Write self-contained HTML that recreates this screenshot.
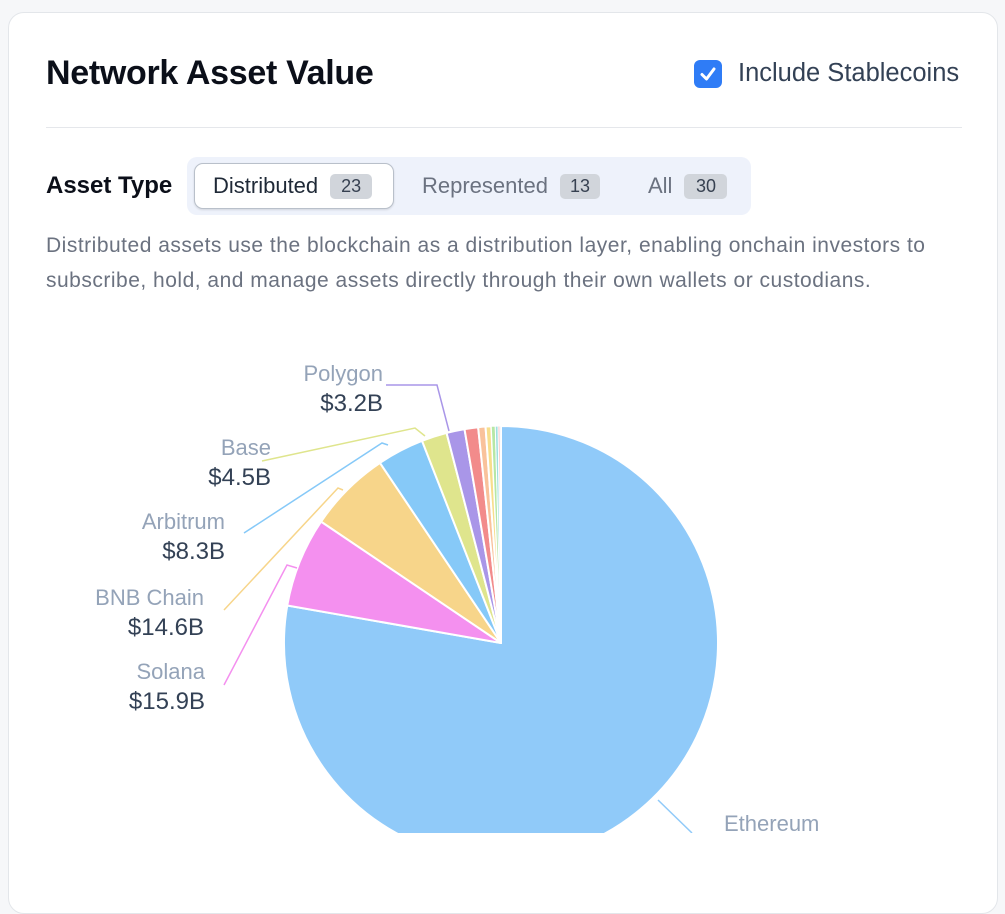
<!DOCTYPE html>
<html><head><meta charset="utf-8">
<style>
html,body{margin:0;padding:0;width:1005px;height:833px;overflow:hidden;background:#f6f7f9;font-family:"Liberation Sans",sans-serif;}
.card{position:absolute;left:8px;top:12px;width:988px;height:900px;background:#fff;border:1px solid #e3e6ea;border-radius:16px;}
.abs{position:absolute;}
.title{left:46px;top:54px;font-size:34px;font-weight:700;color:#0b0f19;letter-spacing:-0.3px;}
.cb{left:694px;top:60px;width:28px;height:28px;background:#2f7cf6;border-radius:6px;}
.cbl{left:738px;top:59px;font-size:25.5px;color:#334155;}
.hr{left:46px;top:127px;width:916px;height:1px;background:#e5e7eb;}
.atype{left:46px;top:172px;font-size:24px;font-weight:700;color:#0b0f19;}
.tabs{left:187px;top:157px;width:564px;height:58px;background:#eef2fb;border-radius:10px;}
.tab{position:absolute;top:6px;height:46px;font-size:22px;display:flex;align-items:center;}
.active{left:7px;width:198px;background:#fff;border:1px solid #b9c0ca;border-radius:9px;box-shadow:0 1px 2px rgba(0,0,0,.12);color:#1f2937;height:44px;}
.badge{display:inline-block;background:#d1d5db;color:#374151;font-size:18px;border-radius:5px;padding:2px 0;width:42px;text-align:center;margin-left:12px;}
.desc{left:46px;top:228px;font-size:21px;letter-spacing:0.5px;line-height:35px;color:#6b7280;width:910px;}
</style></head>
<body>
<div class="card"></div>
<div class="abs title">Network Asset Value</div>
<div class="abs cb">
<svg width="28" height="28"><path d="M8 14.5 L12.5 19 L20 9" stroke="#fff" stroke-width="3" fill="none" stroke-linecap="round" stroke-linejoin="round"/></svg></div>
<div class="abs cbl">Include Stablecoins</div>
<div class="abs hr"></div>
<div class="abs atype">Asset Type</div>
<div class="abs tabs">
 <div class="tab active"><span style="margin-left:18px">Distributed</span><span class="badge">23</span></div>
 <div class="tab" style="left:235px;color:#6b7280">Represented<span class="badge" style="width:40px">13</span></div>
 <div class="tab" style="left:461px;color:#6b7280">All<span class="badge" style="width:43px">30</span></div>
</div>
<div class="abs desc">Distributed assets use the blockchain as a distribution layer, enabling onchain investors to subscribe, hold, and manage assets directly through their own wallets or custodians.</div>
<svg id="pie" class="abs" style="left:0;top:0" width="1005" height="833"></svg>
<script>
const networks = ["Ethereum","Solana","BNB Chain","Arbitrum","Base","Polygon","Avalanche","Stellar","Aptos","Sui","Near","Other","Misc"];
const values = [185,15.9,14.6,8.3,4.5,3.2,2.4,1.3,1.0,0.7,0.5,0.3,0.2];
const valueLabels = ["$185B","$15.9B","$14.6B","$8.3B","$4.5B","$3.2B"];
const colors = ["#90caf9","#f490ef","#f7d58a","#86c9f8","#dfe58d","#a996e8","#f28b8b","#f9c29b","#f7de8c","#b7e7a5","#9ee0e0","#f3a0a0","#c5d9f5"];
// label layout (not data)
const labelLayout = [
 {x:724,y:823,anchor:"start",lx:692,ly:833,ex:658,ey:800},
 {x:205,y:671,anchor:"end",lx:224,ly:685,ex:287,ey:565,fx:297,fy:568},
 {x:204,y:597,anchor:"end",lx:224,ly:610,ex:338,ey:488,fx:343,fy:490},
 {x:225,y:521,anchor:"end",lx:244,ly:533,ex:382,ey:443,fx:388,fy:445},
 {x:271,y:447,anchor:"end",lx:262,ly:461,ex:415,ey:428,fx:425,fy:436},
 {x:383,y:373,anchor:"end",lx:386,ly:385,ex:437,ey:385,fx:449,fy:431}
];
const cx=501, cy=643, R=217;
const svg=document.getElementById('pie');
const NS="http://www.w3.org/2000/svg";
const total=values.reduce((a,b)=>a+b,0);
function pt(a,r){return [cx+r*Math.sin(a),cy-r*Math.cos(a)];}
let a0=0;
values.forEach((v,i)=>{
 const a1=a0+v/total*2*Math.PI;
 const p0=pt(a0,R),p1=pt(a1,R);
 const large=(a1-a0)>Math.PI?1:0;
 const path=document.createElementNS(NS,'path');
 path.setAttribute('d',`M${cx},${cy} L${p0[0]},${p0[1]} A${R},${R} 0 ${large} 1 ${p1[0]},${p1[1]} Z`);
 path.setAttribute('fill',colors[i]);
 path.setAttribute('stroke','#fff');
 path.setAttribute('stroke-width',v<1?1:2);
 path.setAttribute('stroke-linejoin','round');
 
 
 svg.appendChild(path);
 a0=a1;
});
labelLayout.forEach((L,i)=>{
 const pl=document.createElementNS(NS,'polyline');
 let pts=`${L.lx},${L.ly} ${L.ex},${L.ey}`+(L.fx?` ${L.fx},${L.fy}`:'');
 pl.setAttribute('points',pts);
 pl.setAttribute('fill','none');
 pl.setAttribute('stroke',colors[i]);
 pl.setAttribute('stroke-width','1.5');
 
 
 svg.appendChild(pl);
 const t=document.createElementNS(NS,'text');
 t.setAttribute('x',L.x);t.setAttribute('y',L.y+8);
 t.setAttribute('text-anchor',L.anchor);
 t.setAttribute('font-size','22');t.setAttribute('fill','#94a3b8');
 t.setAttribute('font-family','Liberation Sans, sans-serif');
 t.textContent=networks[i];
 
 
 svg.appendChild(t);
 const t2=document.createElementNS(NS,'text');
 t2.setAttribute('x',L.x);t2.setAttribute('y',L.y+38);
 t2.setAttribute('text-anchor',L.anchor);
 t2.setAttribute('font-size','24');t2.setAttribute('fill','#334155');
 t2.setAttribute('font-family','Liberation Sans, sans-serif');
 t2.textContent=valueLabels[i];
 
 
 svg.appendChild(t2);
});
</script>
</body></html>
